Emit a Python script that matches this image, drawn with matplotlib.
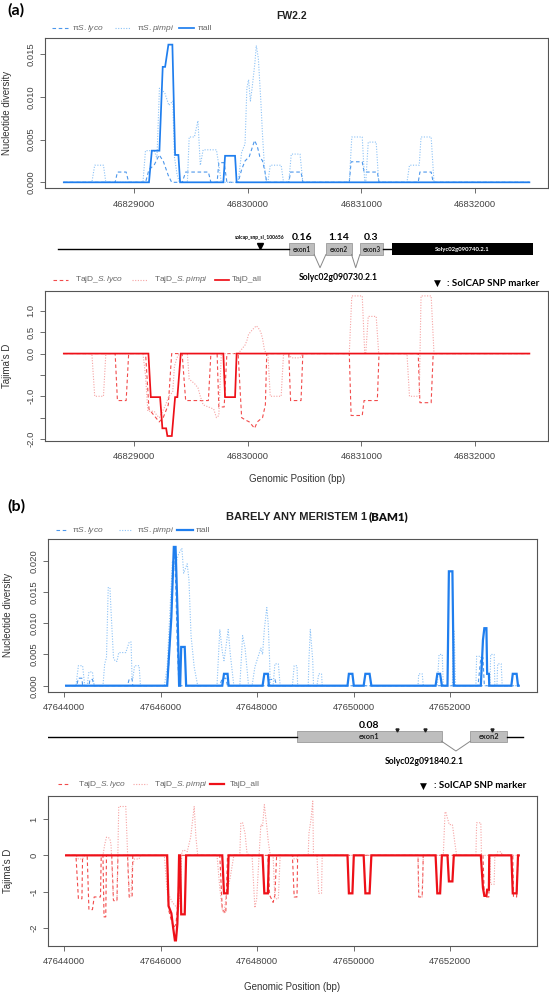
import matplotlib
matplotlib.use("Agg")
import matplotlib.pyplot as plt
from matplotlib.lines import Line2D
from matplotlib.patches import Rectangle

plt.rcParams["font.family"] = ["Liberation Sans", "DejaVu Sans"]
plt.rcParams["mathtext.fontset"] = "custom"
plt.rcParams["mathtext.rm"] = "Liberation Sans"
plt.rcParams["mathtext.it"] = "Liberation Sans:italic"

W, H = 549, 992

# ---------------- (a) FW2.2 ----------------
a_xticks = [46829000, 46830000, 46831000, 46832000]

a_pi_all = [(46828380, 0), (46829130, 0), (46829155, 0.0037), (46829222, 0.0037), (46829251, 0.0135),
            (46829272, 0.0135), (46829301, 0.0161), (46829336, 0.0161), (46829360, 0.0032),
            (46829389, 0.0032), (46829404, 0), (46829785, 0), (46829800, 0.0031), (46829888, 0.0031),
            (46829902, 0), (46832480, 0)]

a_pi_lyco = [(46828380, 0), (46828832, 0), (46828852, 0.0012), (46828929, 0.0012), (46828951, 0),
             (46829100, 0), (46829130, 0.0015), (46829175, 0.002), (46829220, 0.0032), (46829255, 0.0025),
             (46829300, 0.0008), (46829330, 0), (46829422, 0), (46829453, 0.0012), (46829653, 0.0012),
             (46829675, 0), (46829730, 0), (46829745, 0.0023), (46829792, 0.0023), (46829816, 0),
             (46829915, 0), (46829946, 0.0015), (46829976, 0.0025), (46830013, 0.003), (46830060, 0.0049),
             (46830084, 0.0042), (46830106, 0.003), (46830130, 0.0025), (46830155, 0.001), (46830167, 0),
             (46830361, 0), (46830377, 0.0012), (46830469, 0.0012), (46830485, 0), (46830894, 0),
             (46830910, 0.0024), (46831008, 0.0024), (46831024, 0.0012), (46831141, 0.0012), (46831156, 0),
             (46831501, 0), (46831516, 0.0012), (46831615, 0.0012), (46831633, 0), (46832480, 0)]

a_pi_pimpi = [(46828380, 0), (46828627, 0), (46828652, 0.002), (46828729, 0.002), (46828750, 0),
              (46829077, 0), (46829099, 0.0037), (46829176, 0.0037), (46829200, 0.0028), (46829222, 0.011),
              (46829268, 0.0105), (46829305, 0.009), (46829339, 0.0095), (46829354, 0.003), (46829376, 0.001),
              (46829397, 0), (46829468, 0), (46829484, 0.0053), (46829530, 0.0053), (46829561, 0.0072),
              (46829582, 0.002), (46829607, 0.0038), (46829724, 0.0038), (46829745, 0.002), (46829767, 0),
              (46829915, 0), (46829946, 0.0035), (46829976, 0.0045), (46829992, 0.011), (46830007, 0.012),
              (46830023, 0.0095), (46830038, 0.011), (46830063, 0.014), (46830075, 0.016), (46830093, 0.0145),
              (46830115, 0.0095), (46830130, 0.0055), (46830146, 0.002), (46830161, 0), (46830177, 0),
              (46830198, 0.002), (46830294, 0.002), (46830315, 0), (46830361, 0), (46830383, 0.0033),
              (46830460, 0.0033), (46830485, 0), (46830894, 0), (46830916, 0.0053), (46831008, 0.0053),
              (46831030, 0), (46831039, 0), (46831061, 0.0047), (46831131, 0.0047), (46831153, 0),
              (46831402, 0), (46831424, 0.002), (46831510, 0.002), (46831526, 0.0053), (46831615, 0.0053),
              (46831640, 0), (46832480, 0)]

a_taj_all = [(46828380, 0), (46829125, 0), (46829146, -1.02), (46829228, -1.02), (46829248, -1.75),
             (46829281, -1.75), (46829292, -1.93), (46829331, -1.93), (46829360, -1.02), (46829380, -1.02),
             (46829410, 0), (46829785, 0), (46829800, -1.02), (46829888, -1.02), (46829902, 0),
             (46832480, 0)]

a_taj_lyco = [(46828380, 0), (46828832, 0), (46828852, -1.1), (46828929, -1.1), (46828951, 0),
              (46829100, 0), (46829130, -1.3), (46829175, -1.45), (46829220, -1.6), (46829255, -1.5),
              (46829300, -1.2), (46829330, 0), (46829422, 0), (46829453, -1.1), (46829653, -1.1),
              (46829675, 0), (46829730, 0), (46829745, -1.25), (46829792, -1.25), (46829816, 0),
              (46829915, 0), (46829946, -1.5), (46829976, -1.55), (46830013, -1.6), (46830060, -1.75),
              (46830084, -1.6), (46830106, -1.55), (46830130, -1.5), (46830155, -1.2), (46830167, 0),
              (46830361, 0), (46830377, -1.1), (46830469, -1.1), (46830485, 0), (46830894, 0),
              (46830910, -1.45), (46831008, -1.45), (46831024, -1.1), (46831141, -1.1), (46831156, 0),
              (46831501, 0), (46831516, -1.15), (46831615, -1.15), (46831633, 0), (46832480, 0)]

a_taj_pimpi = [(46828380, 0), (46828627, 0), (46828652, -1.0), (46828729, -1.0), (46828750, 0),
               (46829077, 0), (46829099, -0.5), (46829120, -1.35), (46829176, -1.35), (46829200, -1.45),
               (46829222, -1.5), (46829268, -1.25), (46829305, -1.0), (46829339, -0.9), (46829354, -0.3),
               (46829376, -0.1), (46829397, 0), (46829468, 0), (46829484, -0.6), (46829530, -0.7),
               (46829561, -0.8), (46829582, -1.0), (46829607, -1.2), (46829700, -1.3), (46829724, -1.5),
               (46829745, -1.45), (46829767, 0), (46829915, 0), (46829946, 0.1), (46829976, 0.2),
               (46829992, 0.3), (46830007, 0.45), (46830038, 0.55), (46830075, 0.65), (46830093, 0.6),
               (46830115, 0.5), (46830130, 0.35), (46830146, 0.1), (46830161, 0), (46830177, 0),
               (46830198, -1.0), (46830294, -1.0), (46830315, 0), (46830361, 0), (46830383, -0.1),
               (46830460, -0.1), (46830485, 0), (46830894, 0), (46830916, 1.35), (46831008, 1.35),
               (46831030, 0), (46831039, 0), (46831061, 0.87), (46831131, 0.87), (46831153, 0),
               (46831402, 0), (46831424, -1.0), (46831510, -1.0), (46831526, 1.35), (46831615, 1.35),
               (46831640, 0), (46832480, 0)]

# gene model (a)
a_gene_line = [(46828333, 46830363), (46831192, 46831266)]
a_exons = [(46830363, 46830585), (46830688, 46830914), (46830987, 46831192)]
a_exon_names = ["exon1", "exon2", "exon3"]
a_exon_values = ["0.16", "1.14", "0.3"]
a_next_gene = (46831266, 46832512)
a_next_gene_name = "Solyc02g090740.2.1"
a_gene_name = "Solyc02g090730.2.1"
a_snps = [46830108]
a_snp_name = "solcap_snp_sl_100656"

# ---------------- (b) BAM1 ----------------
b_xticks = [47644000, 47646000, 47648000, 47650000, 47652000]

b_pi_all = [(47644036, 0), (47646131, 0), (47646160, 0.0037), (47646218, 0.011), (47646269, 0.0222),
            (47646305, 0.0222), (47646349, 0.011), (47646378, 0), (47646400, 0), (47646422, 0.0062),
            (47646495, 0.0062), (47646524, 0), (47647273, 0), (47647309, 0.0019), (47647383, 0.0019),
            (47647404, 0), (47648109, 0), (47648145, 0.0019), (47648218, 0.0019), (47648240, 0),
            (47649869, 0), (47649898, 0.0019), (47649971, 0.0019), (47650000, 0), (47650204, 0),
            (47650240, 0.0019), (47650327, 0.0019), (47650364, 0), (47651695, 0), (47651731, 0.0019),
            (47651789, 0.0019), (47651826, 0), (47651942, 0), (47651971, 0.0183), (47652044, 0.0183),
            (47652073, 0), (47652633, 0), (47652677, 0.0073), (47652706, 0.0092), (47652749, 0.0092),
            (47652764, 0.0019), (47652800, 0.0019), (47652808, 0), (47653266, 0), (47653295, 0.0019),
            (47653375, 0.0019), (47653404, 0), (47653418, 0)]

b_pi_lyco = [(47644036, 0), (47644255, 0), (47644291, 0.0012), (47644364, 0.0012), (47644378, 0),
             (47644509, 0), (47644531, 0.001), (47644582, 0.001), (47644618, 0), (47645309, 0),
             (47645345, 0.0011), (47645404, 0.0011), (47645418, 0), (47646131, 0), (47646160, 0.003),
             (47646218, 0.012), (47646269, 0.021), (47646291, 0.02), (47646313, 0.015), (47646342, 0.006),
             (47646364, 0.002), (47646378, 0), (47647222, 0), (47647273, 0.0012), (47647346, 0.0012),
             (47647382, 0), (47648218, 0), (47648255, 0.001), (47648364, 0.001), (47648400, 0),
             (47652575, 0), (47652633, 0.0045), (47652677, 0.0045), (47652706, 0), (47653418, 0)]

b_pi_pimpi = [(47644036, 0), (47644240, 0), (47644291, 0.0032), (47644378, 0.0032), (47644422, 0),
              (47644473, 0), (47644509, 0.0022), (47644582, 0.0022), (47644618, 0), (47644800, 0),
              (47644836, 0.0035), (47644873, 0.0045), (47644909, 0.0157), (47644945, 0.0157),
              (47644967, 0.012), (47645018, 0.0045), (47645055, 0.0039), (47645091, 0.0039),
              (47645127, 0.0053), (47645273, 0.0053), (47645345, 0.007), (47645382, 0.007),
              (47645404, 0.001), (47645418, 0.001), (47645455, 0.0032), (47645549, 0.0032), (47645578, 0),
              (47646073, 0), (47646131, 0.003), (47646240, 0.02), (47646291, 0.019), (47646364, 0.021),
              (47646436, 0.022), (47646473, 0.018), (47646546, 0.0195), (47646582, 0.017), (47646626, 0.008),
              (47646691, 0.003), (47646764, 0), (47647164, 0), (47647222, 0.009), (47647273, 0.0055),
              (47647309, 0.004), (47647346, 0.006), (47647396, 0.009), (47647440, 0.005), (47647513, 0),
              (47647637, 0), (47647695, 0.008), (47647746, 0.006), (47647818, 0), (47647891, 0),
              (47647949, 0.003), (47648073, 0.006), (47648109, 0.005), (47648145, 0.009), (47648196, 0.0125),
              (47648225, 0.01), (47648255, 0.004), (47648269, 0), (47648327, 0), (47648364, 0.0035),
              (47648436, 0.0035), (47648473, 0), (47648727, 0), (47648764, 0.0032), (47648822, 0.0032),
              (47648836, 0), (47649055, 0), (47649069, 0.004), (47649098, 0.009), (47649149, 0.004),
              (47649164, 0), (47649236, 0), (47649273, 0.0019), (47649331, 0.0019), (47649345, 0),
              (47651331, 0), (47651346, 0.0019), (47651418, 0.0019), (47651440, 0), (47651731, 0),
              (47651767, 0.005), (47651833, 0.005), (47651855, 0), (47652044, 0), (47652058, 0.009),
              (47652080, 0.009), (47652109, 0), (47652531, 0), (47652546, 0.0047), (47652633, 0.0047),
              (47652646, 0), (47652822, 0), (47652837, 0.005), (47652909, 0.005), (47652924, 0),
              (47652967, 0), (47652982, 0.0035), (47653055, 0.0035), (47653076, 0), (47653418, 0)]

b_taj_all = [(47644036, 0), (47646131, 0), (47646160, -1.4), (47646218, -1.6), (47646255, -2.0),
             (47646291, -2.35), (47646313, -2.35), (47646342, -1.9), (47646364, -1.0), (47646378, 0),
             (47646400, 0), (47646422, -1.63), (47646495, -1.63), (47646524, 0), (47647273, 0),
             (47647309, -1.05), (47647383, -1.05), (47647404, 0), (47648109, 0), (47648145, -1.05),
             (47648218, -1.05), (47648240, 0), (47649869, 0), (47649898, -1.05), (47649971, -1.05),
             (47650000, 0), (47650204, 0), (47650240, -1.05), (47650327, -1.05), (47650364, 0),
             (47651695, 0), (47651731, -1.05), (47651789, -1.05), (47651826, 0), (47651942, 0),
             (47651971, -0.72), (47652044, -0.72), (47652073, 0), (47652633, 0), (47652677, -0.9),
             (47652706, -1.12), (47652749, -1.12), (47652764, -0.95), (47652800, -0.95), (47652808, 0),
             (47653266, 0), (47653295, -1.05), (47653375, -1.05), (47653404, 0), (47653418, 0)]

b_taj_lyco = [(47644036, 0), (47644240, 0), (47644291, -1.2), (47644364, -1.2), (47644378, 0),
              (47644473, 0), (47644509, -1.5), (47644582, -1.5), (47644618, -1.15), (47644749, -1.15),
              (47644764, 0), (47644800, 0), (47644822, -1.7), (47644858, -1.7), (47644873, 0),
              (47644982, 0), (47645018, -1.25), (47645091, -1.25), (47645110, 0), (47645309, 0),
              (47645345, -1.15), (47645404, -1.15), (47645418, 0), (47646131, 0), (47646160, -1.5),
              (47646218, -1.8), (47646269, -2.0), (47646313, -1.9), (47646342, -1.5), (47646364, -1.0),
              (47646378, 0), (47647222, 0), (47647273, -1.5), (47647346, -1.6), (47647382, 0),
              (47648218, 0), (47648255, -1.1), (47648327, -1.3), (47648364, -1.1), (47648400, 0),
              (47648727, 0), (47648764, -1.15), (47648822, -1.15), (47648836, 0), (47651331, 0),
              (47651346, -1.15), (47651418, -1.15), (47651440, 0), (47652677, 0), (47652706, -1.15),
              (47652800, -1.15), (47652808, 0), (47653295, 0), (47653310, -1.15), (47653375, -1.15),
              (47653404, 0), (47653418, 0)]

b_taj_pimpi = [(47644036, 0), (47644240, 0), (47644291, -0.1), (47644378, -0.1), (47644422, 0),
               (47644800, 0), (47644836, 0.3), (47644873, 0.5), (47644909, 0.5), (47644945, 0.45),
               (47644967, 0.3), (47645018, -1.25), (47645091, -1.25), (47645127, 1.35), (47645273, 1.35),
               (47645345, -1.15), (47645382, -1.15), (47645404, -0.3), (47645455, -0.1), (47645549, -0.1),
               (47645578, 0), (47646073, 0), (47646131, -1.0), (47646240, -1.3), (47646364, -1.5),
               (47646400, -1.0), (47646436, 0.1), (47646473, 0.15), (47646546, 0.1), (47646618, 0.5),
               (47646691, 1.35), (47646727, 0.5), (47646764, 0), (47647164, 0), (47647222, -0.9),
               (47647273, -1.5), (47647309, -1.6), (47647346, -1.2), (47647396, -0.9), (47647440, -0.6),
               (47647513, 0), (47647637, 0), (47647658, 0.9), (47647695, 0.9), (47647746, 0.6),
               (47647782, 0.1), (47647818, 0), (47647891, 0), (47647949, -1.45), (47647986, -1.2),
               (47648073, 0.85), (47648109, 0.8), (47648145, 1.4), (47648196, 0.8), (47648225, 0.4),
               (47648269, 0), (47648327, 0), (47648364, -1.2), (47648436, -1.2), (47648473, 0),
               (47648727, 0), (47648764, -0.1), (47648822, -0.1), (47648836, 0), (47649055, 0),
               (47649069, 0.6), (47649113, 1.0), (47649149, 1.5), (47649164, 0), (47649236, 0),
               (47649273, -1.05), (47649331, -1.05), (47649345, 0), (47651331, 0), (47651346, -1.15),
               (47651418, -1.15), (47651440, 0), (47651855, 0), (47651891, 1.2), (47651906, 1.2),
               (47651978, 0.85), (47652044, 0.85), (47652109, 0.2), (47652131, 0), (47652531, 0),
               (47652546, 0.9), (47652633, 0.9), (47652646, 0), (47652822, 0), (47652837, -0.8),
               (47652909, -0.8), (47652924, 0), (47652967, 0), (47652982, 0.1), (47653055, 0.1),
               (47653076, 0), (47653418, 0)]

# gene model (b)
b_gene_line = [(47643651, 47648823), (47653178, 47653504)]
b_exons = [(47648823, 47651818), (47652416, 47653178)]
b_exon_names = ["exon1", "exon2"]
b_exon_values = ["0.08", ""]
b_gene_name = "Solyc02g091840.2.1"
b_snps = [47650894, 47651475, 47652873]

# ---------------- styling ----------------
BLUE_ALL, BLUE_LYCO, BLUE_PIMPI = "#1F7EEE", "#4C97EC", "#8CC2F6"
RED_ALL, RED_LYCO, RED_PIMPI = "#EE1018", "#F24B4B", "#F6A2A2"
DASH = (0, (3.2, 2.4))
DOT = (0, (1.0, 1.4))
PPT = ["Lato", "DejaVu Sans"]

fig = plt.figure(figsize=(W / 100, H / 100), dpi=100)


def add_ax(left, right, top, bottom):
    return fig.add_axes([left / W, 1 - bottom / H, (right - left) / W, (bottom - top) / H])


def expand(pts):
    xs = [p[0] for p in pts]
    pad = (max(xs) - min(xs)) * 0.04
    return min(xs) - pad, max(xs) + pad


def draw(ax, pts, color, lw, ls):
    ax.plot([p[0] for p in pts], [p[1] for p in pts], color=color, lw=lw, linestyle=ls,
            solid_joinstyle="miter")


def style(ax, xlim, ylim, xticks, yticks, ylabels, ylabel, ylab_x):
    ax.set_xlim(xlim)
    ax.set_ylim(ylim)
    ax.set_xticks(xticks)
    ax.set_xticklabels([str(t) for t in xticks])
    ax.set_yticks(yticks)
    ax.set_yticklabels(ylabels, rotation=90, va="center")
    ax.tick_params(direction="out", length=3.6, width=0.6, color="#555", labelsize=6.8, labelcolor="#444")
    ax.tick_params(axis="x", pad=4.5)
    ax.tick_params(axis="y", pad=3.2)
    for s in ax.spines.values():
        s.set_color("#555")
        s.set_linewidth(0.8)
    ax.set_ylabel(ylabel, fontsize=7, color="#333")
    ax.yaxis.set_label_coords(ylab_x, 0.5)


def legend_row(y, items):
    for x0, x1, xt, label, color, lw, ls in items:
        fig.add_artist(Line2D([x0 / W, x1 / W], [1 - y / H] * 2, color=color, lw=lw, linestyle=ls))
        fig.text(xt / W, 1 - y / H, label, fontsize=6, color="#666", va="center", ha="left")


def gene_model(ax, lines, exons, names, values, line_y, ex_top, ex_bot, v_y, exon_fs, connector_y):
    for x0, x1 in lines:
        ax.plot([x0, x1], [line_y, line_y], color="black", lw=1.0)
    for (x0, x1), name, val in zip(exons, names, values):
        ax.add_patch(Rectangle((x0, ex_top), x1 - x0, ex_bot - ex_top, facecolor="#BEBEBE",
                               edgecolor="#9A9A9A", lw=0.6))
        ax.text((x0 + x1) / 2, (ex_top + ex_bot) / 2 + 0.3, name, ha="center", va="center",
                fontsize=exon_fs, fontweight="bold", family=PPT, color="#222")
        if val:
            ax.text((x0 + x1) / 2, v_y, val, ha="center", va="center", fontsize=7.5,
                    fontweight="bold", family=PPT)
    for (a0, a1), (b0, b1) in zip(exons[:-1], exons[1:]):
        ax.plot([a1, (a1 + b0) / 2, b0], [ex_bot - 0.5, connector_y, ex_bot - 0.5], color="#888", lw=0.7)


# ---- (a) nucleotide diversity ----
a_xlim = expand(a_pi_all)
ax1 = add_ax(45.2, 548, 38.3, 188.3)
draw(ax1, a_pi_lyco, BLUE_LYCO, 0.8, DASH)
draw(ax1, a_pi_pimpi, BLUE_PIMPI, 0.8, DOT)
draw(ax1, a_pi_all, BLUE_ALL, 1.25, "-")
style(ax1, a_xlim, (-0.0007, 0.01684), a_xticks, [0, 0.005, 0.010, 0.015],
      ["0.000", "0.005", "0.010", "0.015"], "Nucleotide diversity", -0.066)

fig.text(16 / W, 1 - 10 / H, "(a)", fontsize=11.5, fontweight="bold", family=PPT, ha="center", va="center")
fig.text(292 / W, 1 - 16 / H, "FW2.2", fontsize=7.5, fontweight="bold", color="#222", ha="center", va="center")
legend_row(28.3, [
    (52, 68, 72, "π" + r"$\it{S.lyco}$", BLUE_LYCO, 0.8, DASH),
    (115, 131, 137, "π" + r"$\it{S.pimpi}$", BLUE_PIMPI, 0.8, DOT),
    (179, 194, 198, "πall", BLUE_ALL, 1.25, "-"),
])

# ---- (a) gene model ----
axg1 = add_ax(45.2, 548, 228, 272)
axg1.set_xlim(a_xlim)
axg1.set_ylim(272, 228)
axg1.axis("off")
gene_model(axg1, a_gene_line, a_exons, a_exon_names, a_exon_values, 249, 243.3, 255, 238, 4.7, 267.7)
axg1.add_patch(Rectangle((a_next_gene[0], 243.3), a_next_gene[1] - a_next_gene[0], 11.7, facecolor="black"))
axg1.text(sum(a_next_gene) / 2, 249.3, a_next_gene_name, color="white", ha="center", va="center",
          fontsize=4.3, fontweight="bold", family=PPT)
axg1.plot(a_snps, [246] * len(a_snps), marker="v", color="black", ms=5, ls="none")
axg1.text(a_snps[0], 238, a_snp_name, ha="center", va="center", fontsize=3.6, fontweight="bold", family=PPT)
fig.text(338.3 / W, 1 - 277.7 / H, a_gene_name, ha="center", va="center", fontsize=6.2,
         fontweight="bold", family=PPT)
fig.text(437.3 / W, 1 - 283.3 / H, "▼", ha="center", va="center", fontsize=6.5, family=["DejaVu Sans"])
fig.text(446.7 / W, 1 - 283.3 / H, ": SolCAP SNP marker", ha="left", va="center", fontsize=7,
         fontweight="bold", family=PPT)

# ---- (a) Tajima's D ----
ax2 = add_ax(45.2, 548, 290.7, 440.7)
draw(ax2, a_taj_lyco, RED_LYCO, 0.8, DASH)
draw(ax2, a_taj_pimpi, RED_PIMPI, 0.8, DOT)
draw(ax2, a_taj_all, RED_ALL, 1.25, "-")
style(ax2, a_xlim, (-2.04, 1.472), a_xticks, [-2, -1.5, -1, -0.5, 0, 0.5, 1],
      ["-2.0", "", "-1.0", "", "0.0", "0.5", "1.0"], "Tajima's D", -0.066)
ax2.set_xlabel("Genomic Position (bp)", fontsize=7, color="#333")
ax2.xaxis.set_label_coords((297 - 45.2) / 502.8, -(474.5 - 440.7) / 150)
legend_row(279.5, [
    (52.5, 68, 74.6, "TajD_" + r"$\it{S.lyco}$", RED_LYCO, 0.8, DASH),
    (132, 147, 154, "TajD_" + r"$\it{S.pimpi}$", RED_PIMPI, 0.8, DOT),
    (215, 229, 232, "TajD_all", RED_ALL, 1.25, "-"),
])

# ---- (b) nucleotide diversity ----
b_xlim = expand(b_pi_all)
ax3 = add_ax(48, 536.8, 539, 691.7)
draw(ax3, b_pi_lyco, BLUE_LYCO, 0.8, DASH)
draw(ax3, b_pi_pimpi, BLUE_PIMPI, 0.8, DOT)
draw(ax3, b_pi_all, BLUE_ALL, 1.6, "-")
style(ax3, b_xlim, (-0.00096, 0.02347), b_xticks, [0, 0.005, 0.010, 0.015, 0.020],
      ["0.000", "0.005", "0.010", "0.015", "0.020"], "Nucleotide diversity", -0.071)

fig.text(16 / W, 1 - 506.7 / H, "(b)", fontsize=11.5, fontweight="bold", family=PPT, ha="center", va="center")
fig.text(366.5 / W, 1 - 520.5 / H, "BARELY ANY MERISTEM 1", fontsize=8, fontweight="bold", color="#222",
         ha="right", va="baseline")
fig.text(368.5 / W, 1 - 520.5 / H, "(BAM1)", fontsize=8.2, fontweight="heavy", family=PPT, color="#111",
         ha="left", va="baseline")
legend_row(530, [
    (56, 68, 72.5, "π" + r"$\it{S.lyco}$", BLUE_LYCO, 0.8, DASH),
    (119, 131, 136.6, "π" + r"$\it{S.pimpi}$", BLUE_PIMPI, 0.8, DOT),
    (177, 192.6, 196, "πall", BLUE_ALL, 1.6, "-"),
])

# ---- (b) gene model ----
axg2 = add_ax(48, 536.8, 718, 770)
axg2.set_xlim(b_xlim)
axg2.set_ylim(770, 718)
axg2.axis("off")
gene_model(axg2, b_gene_line, b_exons, b_exon_names, b_exon_values, 737.3, 730.7, 741.7, 725, 5.3, 751)
axg2.plot(b_snps, [729.6] * len(b_snps), marker="v", color="#222", ms=2.2, ls="none")
fig.text(424.7 / W, 1 - 761.7 / H, b_gene_name, ha="center", va="center", fontsize=6.2,
         fontweight="bold", family=PPT)
fig.text(423 / W, 1 - 786 / H, "▼", ha="center", va="center", fontsize=6.5, family=["DejaVu Sans"])
fig.text(434 / W, 1 - 786 / H, ": SolCAP SNP marker", ha="left", va="center", fontsize=7,
         fontweight="bold", family=PPT)

# ---- (b) Tajima's D ----
ax4 = add_ax(48, 536.8, 796, 946)
draw(ax4, b_taj_lyco, RED_LYCO, 0.8, DASH)
draw(ax4, b_taj_pimpi, RED_PIMPI, 0.8, DOT)
draw(ax4, b_taj_all, RED_ALL, 1.6, "-")
style(ax4, b_xlim, (-2.505, 1.64), b_xticks, [-2, -1, 0, 1], ["-2", "-1", "0", "1"], "Tajima's D", -0.071)
ax4.set_xlabel("Genomic Position (bp)", fontsize=7, color="#333")
ax4.xaxis.set_label_coords((292.4 - 48) / 488.8, -(981.5 - 946) / 150)
legend_row(784.3, [
    (57.8, 70, 77.7, "TajD_" + r"$\it{S.lyco}$", RED_LYCO, 0.8, DASH),
    (133, 147, 154, "TajD_" + r"$\it{S.pimpi}$", RED_PIMPI, 0.8, DOT),
    (210, 224, 230, "TajD_all", RED_ALL, 1.6, "-"),
])

fig.savefig("out.png", dpi=100)
